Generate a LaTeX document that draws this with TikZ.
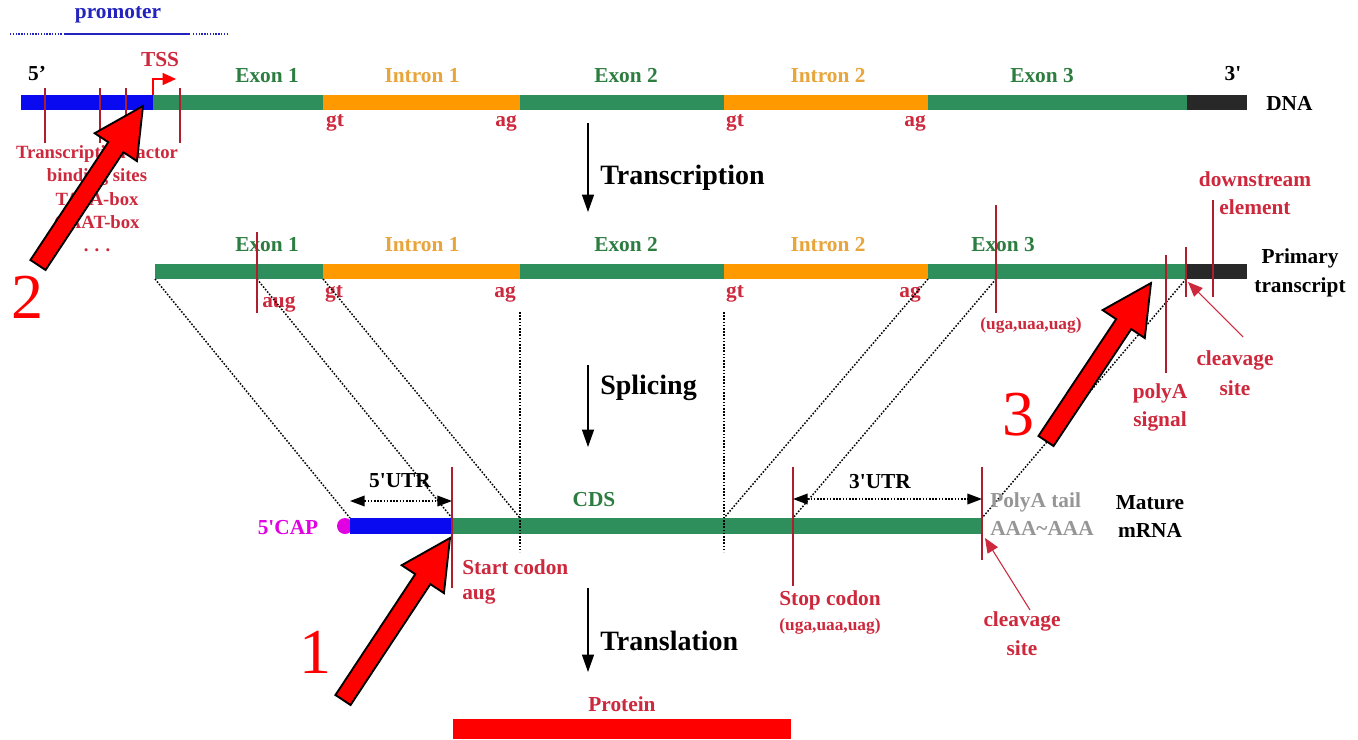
\documentclass[tikz,border=0pt]{standalone}
\usepackage{fontspec}
\setmainfont{Liberation Serif}
\usetikzlibrary{arrows.meta,calc}

\definecolor{barGreen}{RGB}{46,142,92}
\definecolor{barOrange}{RGB}{255,153,0}
\definecolor{barBlue}{RGB}{10,10,240}
\definecolor{barDark}{RGB}{40,40,40}
\definecolor{lblRed}{RGB}{205,40,60}
\definecolor{tickRed}{RGB}{175,30,45}
\definecolor{lblGreen}{RGB}{45,125,65}
\definecolor{lblOrange}{RGB}{232,165,60}
\definecolor{capMagenta}{RGB}{225,0,225}
\definecolor{tailGray}{RGB}{150,150,150}
\definecolor{promBlue}{RGB}{35,35,190}
\definecolor{pointerRed}{RGB}{255,0,0}

% block arrow: #1 = tail coordinate, #2 = tip coordinate, #3 = unique prefix
\newcommand\redpointer[3]{%
  \coordinate (#3-neck) at ($(#2)!37pt!(#1)$);
  \filldraw[fill=pointerRed, draw=black, line width=1.4pt, line join=miter]
    ($(#1)!6.8pt!90:(#2)$) -- ($(#3-neck)!6.8pt!90:(#2)$) --
    ($(#3-neck)!19pt!90:(#2)$) -- (#2) --
    ($(#3-neck)!19pt!-90:(#2)$) -- ($(#3-neck)!6.8pt!-90:(#2)$) --
    ($(#1)!6.8pt!-90:(#2)$) -- cycle;
}

\tikzset{
  lbl/.style={font=\bfseries\fontsize{16}{19}\selectfont, inner sep=0pt},
  exonlbl/.style={lbl, text=lblGreen},
  intronlbl/.style={lbl, text=lblOrange},
  redlbl/.style={lbl, text=lblRed},
  blacklbl/.style={lbl, text=black},
  smallred/.style={font=\bfseries\fontsize{13}{15}\selectfont, inner sep=0pt, text=lblRed},
  steplbl/.style={font=\bfseries\fontsize{21}{24}\selectfont, inner sep=0pt, anchor=west},
  bignum/.style={font=\fontsize{48}{50}\selectfont, inner sep=0pt, text=pointerRed},
  tickline/.style={tickRed, line width=1pt},
  flow/.style={-{Triangle[length=13pt,width=9pt]}, line width=0.9pt},
  guide/.style={dash pattern=on 1.2pt off 1.2pt, line width=1.1pt},
  utr/.style={dash pattern=on 1.2pt off 1.2pt, line width=1.1pt,
    {Triangle[length=11pt,width=8pt]}-{Triangle[length=11pt,width=8pt]}},
  cleave/.style={lblRed, line width=0.8pt, -{Triangle[length=11pt,width=9pt]}},
}

\begin{document}
\begin{tikzpicture}[x=0.75pt, y=-0.75pt]
\useasboundingbox (0,0) rectangle (1358,739);
\fill[white] (0,0) rectangle (1358,739);

% ---------------- DNA ----------------
\fill[barBlue]   (21,95)   rectangle (153,110);
\fill[barGreen]  (153,95)  rectangle (323,110);
\fill[barOrange] (323,95)  rectangle (520,110);
\fill[barGreen]  (520,95)  rectangle (724,110);
\fill[barOrange] (724,95)  rectangle (928,110);
\fill[barGreen]  (928,95)  rectangle (1187,110);
\fill[barDark]   (1187,95) rectangle (1247,110);

% promoter bracket
\node[lbl, text=promBlue] (promoter) at (118,15) {promoter};
\coordinate (pr0) at (10,34);  \coordinate (pr1) at (62,34);
\coordinate (pr2) at (64,34);  \coordinate (pr3) at (190,34);
\coordinate (pr4) at (193,34); \coordinate (pr5) at (229,34);
\draw[promBlue, densely dotted, line width=1.1pt] (pr0) -- (pr1);
\draw[promBlue, line width=1.1pt] (pr2) -- (pr3);
\draw[promBlue, densely dotted, line width=1.1pt] (pr4) -- (pr5);

% binding-site ticks
\foreach \tx/\tname in {45/ta, 100/tb, 126/tc, 180/td}{
  \coordinate (\tname-top) at (\tx,88);
  \coordinate (\tname-bot) at (\tx,143);
  \draw[tickline] (\tname-top) -- (\tname-bot);
}

% transcription start site
\coordinate (tss0) at (153,95); \coordinate (tss1) at (153,79); \coordinate (tss2) at (176,79);
\draw[red, line width=1pt, -{Triangle[length=10pt,width=9pt]}] (tss0) -- (tss1) -- (tss2);
\node[redlbl] (tss) at (160,60) {TSS};

\node[blacklbl] (dna5) at (37,74) {5'};
\node[blacklbl] (dna3) at (1233,74) {3\textquotesingle};
\node[blacklbl, anchor=west] (dnalbl) at (1266,103) {DNA};

\node[exonlbl]   (d-e1) at (267,76)  {Exon 1};
\node[intronlbl] (d-i1) at (422,76)  {Intron 1};
\node[exonlbl]   (d-e2) at (626,76)  {Exon 2};
\node[intronlbl] (d-i2) at (828,76)  {Intron 2};
\node[exonlbl]   (d-e3) at (1042,76) {Exon 3};

\node[redlbl] (d-gt1) at (335,123) {gt};
\node[redlbl] (d-ag1) at (506,123) {ag};
\node[redlbl] (d-gt2) at (735,123) {gt};
\node[redlbl] (d-ag2) at (915,123) {ag};

\node[text=lblRed, font=\bfseries\fontsize{14}{17.5}\selectfont, align=center, inner sep=0pt,
      anchor=north] (tfsites) at (97,145)
  {Transcription factor\\binding sites\\TATA-box\\CAAT-box\\. . .};

% transcription step
\coordinate (tr0) at (588,123); \coordinate (tr1) at (588,212);
\draw[flow] (tr0) -- (tr1);
\node[steplbl] (transcription) at (600,178) {Transcription};

% ---------------- primary transcript ----------------
\fill[barGreen]  (155,264)  rectangle (323,279);
\fill[barOrange] (323,264)  rectangle (520,279);
\fill[barGreen]  (520,264)  rectangle (724,279);
\fill[barOrange] (724,264)  rectangle (928,279);
\fill[barGreen]  (928,264)  rectangle (1187,279);
\fill[barDark]   (1187,264) rectangle (1247,279);

\node[exonlbl]   (p-e1) at (267,245)  {Exon 1};
\node[intronlbl] (p-i1) at (422,245)  {Intron 1};
\node[exonlbl]   (p-e2) at (626,245)  {Exon 2};
\node[intronlbl] (p-i2) at (828,245)  {Intron 2};
\node[exonlbl]   (p-e3) at (1003,245) {Exon 3};

\node[redlbl] (p-gt1) at (334,294) {gt};
\node[redlbl] (p-ag1) at (505,294) {ag};
\node[redlbl] (p-gt2) at (735,294) {gt};
\node[redlbl] (p-ag2) at (910,294) {ag};
\node[redlbl, anchor=west] (p-aug) at (262,304) {aug};
\node[smallred] (p-stop) at (1031,325) {(uga,uaa,uag)};

\node[redlbl] (dse1) at (1255,179) {downstream};
\node[redlbl] (dse2) at (1255,207) {element};
\node[blacklbl] (prim1) at (1300,258) {Primary};
\node[blacklbl] (prim2) at (1300,287) {transcript};
\node[redlbl] (pas1) at (1160,393) {polyA};
\node[redlbl] (pas2) at (1160,421) {signal};
\node[redlbl] (cs1) at (1235,360) {cleavage};
\node[redlbl] (cs2) at (1235,388) {site};

% ---------------- mature mRNA ----------------
\fill[capMagenta] (345,526) circle (8);
\fill[barBlue]  (350,518) rectangle (452,534);
\fill[barGreen] (452,518) rectangle (982,534);

% splice correspondences
\coordinate (r2a)      at (155,279);  \coordinate (m3a)     at (350,518);
\coordinate (r2aug)    at (257,279);  \coordinate (m3start) at (452,518);
\coordinate (r2gt1)    at (323,279);  \coordinate (m3j1)    at (520,518);
\coordinate (r2ag2)    at (928,279);  \coordinate (m3j2)    at (724,518);
\coordinate (r2stop)   at (996,279);  \coordinate (m3stop)  at (793,518);
\coordinate (r2cleave) at (1186,279); \coordinate (m3end)   at (982,518);
\coordinate (v1top) at (520,312); \coordinate (v1bot) at (520,552);
\coordinate (v2top) at (724,312); \coordinate (v2bot) at (724,552);
\draw[guide] (r2a) -- (m3a);
\draw[guide] (r2aug) -- (m3start);
\draw[guide] (r2gt1) -- (m3j1);
\draw[guide] (r2ag2) -- (m3j2);
\draw[guide] (r2stop) -- (m3stop);
\draw[guide] (r2cleave) -- (m3end);
\draw[guide] (v1top) -- (v1bot);
\draw[guide] (v2top) -- (v2bot);

% marker lines on the primary transcript
\coordinate (augT) at (257,232);  \coordinate (augB) at (257,313);
\coordinate (stpT) at (996,205);  \coordinate (stpB) at (996,313);
\coordinate (pasT) at (1166,255); \coordinate (pasB) at (1166,373);
\coordinate (clvT) at (1186,247); \coordinate (clvB) at (1186,297);
\coordinate (dseT) at (1213,200); \coordinate (dseB) at (1213,297);
\draw[tickline] (augT) -- (augB);
\draw[tickline] (stpT) -- (stpB);
\draw[tickline] (pasT) -- (pasB);
\draw[tickline] (clvT) -- (clvB);
\draw[tickline] (dseT) -- (dseB);

\coordinate (cs-tail) at (1243,337); \coordinate (cs-tip) at (1188,282);
\draw[cleave] (cs-tail) -- (cs-tip);

% splicing step
\coordinate (sp0) at (588,365); \coordinate (sp1) at (588,447);
\draw[flow] (sp0) -- (sp1);
\node[steplbl] (splicing) at (600,388) {Splicing};

% marker lines on the mRNA
\coordinate (scT) at (452,467); \coordinate (scB) at (452,588);
\coordinate (ecT) at (793,467); \coordinate (ecB) at (793,586);
\coordinate (ccT) at (982,467); \coordinate (ccB) at (982,560);
\draw[tickline] (scT) -- (scB);
\draw[tickline] (ecT) -- (ecB);
\draw[tickline] (ccT) -- (ccB);

% UTR spans
\coordinate (u5a) at (350,501); \coordinate (u5b) at (452,501);
\coordinate (u3a) at (793,499); \coordinate (u3b) at (982,499);
\draw[utr] (u5a) -- (u5b);
\draw[utr] (u3a) -- (u3b);
\node[blacklbl] (utr5) at (400,481) {5\textquotesingle UTR};
\node[blacklbl] (utr3) at (880,482) {3\textquotesingle UTR};

\node[lbl, text=capMagenta] (cap) at (288,528) {5\textquotesingle CAP};
\node[exonlbl] (cds) at (594,500) {CDS};
\node[lbl, text=tailGray, anchor=west] (polyA1) at (990,502) {PolyA tail};
\node[lbl, text=tailGray, anchor=west] (polyA2) at (990,528) {AAA\textasciitilde AAA};
\node[blacklbl] (mat1) at (1150,503) {Mature};
\node[blacklbl] (mat2) at (1150,530) {mRNA};

\node[redlbl, anchor=west] (start1) at (462,567) {Start codon};
\node[redlbl, anchor=west] (start2) at (462,596) {aug};
\node[redlbl] (stop1) at (830,600) {Stop codon};
\node[smallred] (stop2) at (830,626) {(uga,uaa,uag)};

\coordinate (cm-tail) at (1030,610); \coordinate (cm-tip) at (985,538);
\draw[cleave] (cm-tail) -- (cm-tip);
\node[redlbl] (cm1) at (1022,621) {cleavage};
\node[redlbl] (cm2) at (1022,648) {site};

% translation step
\coordinate (tl0) at (588,588); \coordinate (tl1) at (588,672);
\draw[flow] (tl0) -- (tl1);
\node[steplbl] (translation) at (600,641) {Translation};

% protein
\node[redlbl] (protein) at (622,704) {Protein};
\fill[red] (453,719) rectangle (791,739);

% ---------------- numbered pointers ----------------
\coordinate (p1tail) at (343,700); \coordinate (p1tip) at (450,538);
\coordinate (p2tail) at (38,265);  \coordinate (p2tip) at (143,106);
\coordinate (p3tail) at (1046,441); \coordinate (p3tip) at (1151,283);
\redpointer{p1tail}{p1tip}{pa}
\redpointer{p2tail}{p2tip}{pb}
\redpointer{p3tail}{p3tip}{pc}
\node[bignum] (n1) at (315,652) {1};
\node[bignum] (n2) at (28,297)  {2};
\node[bignum] (n3) at (1018,415) {3};
\end{tikzpicture}
\end{document}
